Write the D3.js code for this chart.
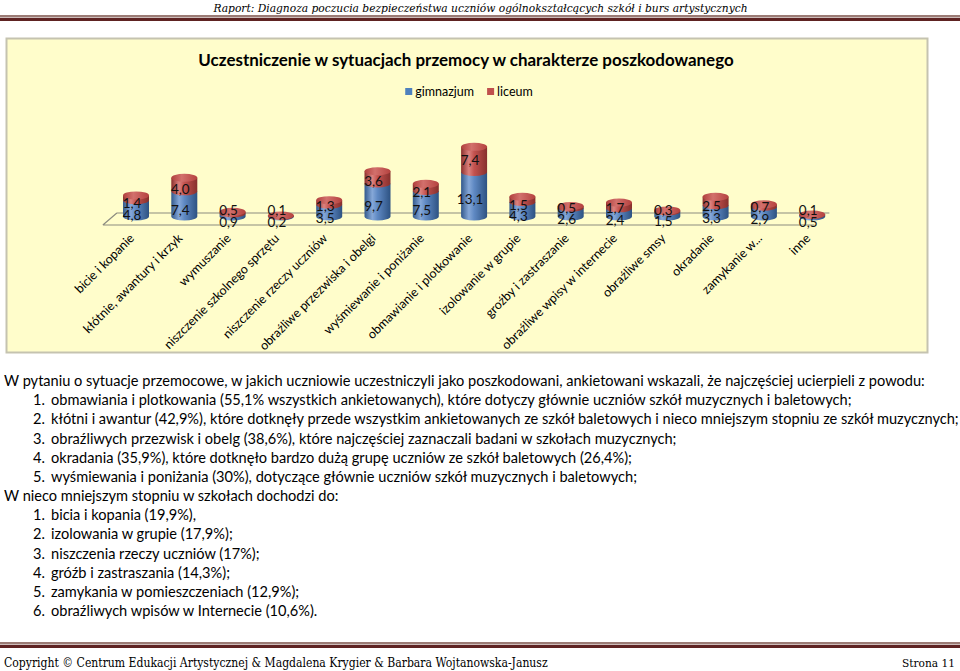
<!DOCTYPE html>
<html><head><meta charset="utf-8">
<script src="https://cdn.jsdelivr.net/npm/d3@7"></script>
<style>body{margin:0;background:#fff} svg{display:block}</style>
</head><body>
<script>
const categories = ["bicie i kopanie","kłótnie, awantury i krzyk","wymuszanie","niszczenie szkolnego sprzętu","niszczenie rzeczy uczniów","obraźliwe przezwiska i obelgi","wyśmiewanie i poniżanie","obmawianie i plotkowanie","izolowanie w grupie","groźby i zastraszanie","obraźliwe wpisy w internecie","obraźliwe smsy","okradanie","zamykanie w...","inne"];
const gimnazjum = [4.8,7.4,0.9,0.2,3.5,9.7,7.5,13.1,4.3,2.6,2.4,1.5,3.3,2.9,0.5];
const liceum    = [1.4,4.0,0.5,0.1,1.3,3.6,2.1,7.4,1.5,0.5,1.7,0.3,2.5,0.7,0.1];
const seriesNames = ["gimnazjum","liceum"];
const chartTitle = "Uczestniczenie w sytuacjach przemocy w charakterze poszkodowanego";
const headerText = "Raport: Diagnoza poczucia bezpieczeństwa uczniów ogólnokształcących szkół i burs artystycznych";
const footerText = "Copyright © Centrum Edukacji Artystycznej & Magdalena Krygier & Barbara Wojtanowska-Janusz";
const pageText = "Strona 11";
const introLine = "W pytaniu o sytuacje przemocowe, w jakich uczniowie uczestniczyli jako poszkodowani, ankietowani wskazali, że najczęściej ucierpieli z powodu:";
const list1 = ["obmawiania i plotkowania (55,1% wszystkich ankietowanych), które dotyczy  głównie uczniów szkół muzycznych i baletowych;",
"kłótni i awantur (42,9%), które dotknęły przede wszystkim ankietowanych ze szkół baletowych i nieco mniejszym stopniu ze szkół muzycznych;",
"obraźliwych przezwisk i obelg (38,6%), które najczęściej zaznaczali badani w szkołach muzycznych;",
"okradania (35,9%), które dotknęło bardzo dużą grupę uczniów ze szkół baletowych (26,4%);",
"wyśmiewania i poniżania (30%), dotyczące głównie uczniów szkół muzycznych i baletowych;"];
const midLine = "W nieco mniejszym stopniu w szkołach dochodzi do:";
const list2 = ["bicia i kopania (19,9%),","izolowania w grupie (17,9%);","niszczenia rzeczy uczniów (17%);","gróźb i zastraszania (14,3%);","zamykania w pomieszczeniach (12,9%);","obraźliwych wpisów w Internecie (10,6%)."];

const W=960,H=671;
const svg = d3.select("body").append("svg").attr("width",W).attr("height",H);
const defs = svg.append("defs");
function grad(id, stops){
  const g = defs.append("linearGradient").attr("id",id).attr("x1","0%").attr("x2","100%").attr("y1","0%").attr("y2","0%");
  stops.forEach(s=>g.append("stop").attr("offset",s[0]).attr("stop-color",s[1]));
}
grad("gBlue",[["0%","#33598c"],["30%","#86a8d8"],["50%","#5f89c3"],["100%","#2d5282"]]);
grad("gRed",[["0%","#8c302e"],["30%","#dc827e"],["50%","#c3524f"],["100%","#87302d"]]);
grad("gRedTop",[["0%","#b0403d"],["40%","#d2706c"],["100%","#b5423f"]]);

function fit(sel, width){
  const n = sel.node(); const w = n.getComputedTextLength();
  const fs = parseFloat(sel.attr("font-size"));
  sel.attr("font-size", fs*width/w);
  return fs*width/w;
}

// header
const hdr = svg.append("text").attr("x",480.5).attr("y",12).attr("text-anchor","middle")
  .attr("font-family","'DejaVu Serif Condensed','DejaVu Serif',serif").attr("font-style","italic")
  .attr("font-size",13).attr("fill","#000").text(headerText);
fit(hdr,535);
svg.append("rect").attr("x",0).attr("y",15).attr("width",960).attr("height",2.5).attr("fill","#9b7b75");
svg.append("rect").attr("x",0).attr("y",18).attr("width",960).attr("height",3).attr("fill","#5e2322");

// chart panel
svg.append("rect").attr("x",6.5).attr("y",38.5).attr("width",921).attr("height",314)
  .attr("fill","#FFFDCB").attr("stroke","#c5c3b0").attr("stroke-width",2);

const t = svg.append("text").attr("x",466).attr("y",66).attr("text-anchor","middle")
  .attr("font-family","Lato, 'Open Sans', sans-serif").attr("font-weight","bold").attr("font-size",16)
  .attr("fill","#000").text(chartTitle);
fit(t,536);

// legend
const colors = ["#4F81BD","#C0504D"];
const lg = svg.append("g").attr("font-family","Lato, sans-serif").attr("font-size",12.5);
let lx = 0;
seriesNames.forEach((s,i)=>{
  const g = lg.append("g");
  g.append("rect").attr("x",0).attr("y",-4).attr("width",7).attr("height",7).attr("fill",colors[i]);
  const tx = g.append("text").attr("x",10).attr("y",4).text(s);
  const w = 10 + tx.node().getComputedTextLength();
  g.attr("transform",`translate(${lx},92)`);
  lx += w + 13;
});
lx -= 13;
lg.attr("transform",`translate(${469 - lx/2},0)`);

// scales
const x = d3.scalePoint().domain(categories).range([111.85,836.35]).padding(0.5);
const y = d3.scaleLinear().domain([0,21]).range([216.5,216.5-21*3.4]);
const yl = d3.scaleLinear().domain([0,21]).range([224.5,224.5-21*3.8]);
const rx = 13, ry = 4;

// floor
const r0 = x.range()[0], r1 = x.range()[1];
svg.append("path").attr("d",`M${r0-9},225 L${r1-22},225 M${r0+5},213 L${r1-7},213 M${r0-9},225 L${r0+5},213`)
  .attr("stroke","#8c8c80").attr("stroke-width",1.2).attr("fill","none");

const data = categories.map((c,i)=>({c, g:gimnazjum[i], l:liceum[i]}));
const bars = svg.append("g");
data.forEach(d=>{
  const cx = x(d.c);
  const b0 = y(0), b1 = y(d.g), b2 = y(d.g+d.l);
  const seg = (yb,yt,fill)=> bars.append("path")
    .attr("d",`M${cx-rx},${yt} L${cx-rx},${yb} A${rx},${ry} 0 0 0 ${cx+rx},${yb} L${cx+rx},${yt} Z`)
    .attr("fill",fill);
  seg(b0,b1,"url(#gBlue)");
  seg(b1,b2,"url(#gRed)");
  bars.append("ellipse").attr("cx",cx).attr("cy",b2).attr("rx",rx).attr("ry",ry).attr("fill","url(#gRedTop)");
});

// data labels
const fmt = v => v.toFixed(1).replace(".",",");
const lab = svg.append("g").attr("font-family","Lato, sans-serif").attr("font-size",13.5).attr("text-anchor","middle").attr("fill","#111");
data.forEach(d=>{
  const cx = x(d.c) - 4;
  const by = Math.min(yl(d.g/2), 222);
  const ryy = Math.min(yl(d.g + d.l/2), by - 11.5);
  lab.append("text").attr("x",cx).attr("y",by).attr("dy","0.35em").text(fmt(d.g));
  lab.append("text").attr("x",cx).attr("y",ryy).attr("dy","0.35em").text(fmt(d.l));
});

// axis labels
const ax = svg.append("g").attr("font-family","Lato, sans-serif").attr("font-size",12.5).attr("fill","#000");
categories.forEach(c=>{
  ax.append("text").attr("text-anchor","end")
    .attr("transform",`translate(${x(c)-1},${239}) rotate(-45)`).text(c);
});

// body text
const body = svg.append("g").attr("font-family","Lato, 'Open Sans', sans-serif").attr("fill","#000");
const lineH = 19.17, base0 = 386;
const first = body.append("text").attr("x",4).attr("y",base0).attr("font-size",15).text(introLine);
const fs = fit(first,921);
let li = 1;
list1.forEach((s,i)=>{
  body.append("text").attr("x",33).attr("y",base0+li*lineH).attr("font-size",fs).text((i+1)+".");
  body.append("text").attr("x",51).attr("y",base0+li*lineH).attr("font-size",fs).text(s);
  li++;
});
body.append("text").attr("x",4).attr("y",base0+li*lineH).attr("font-size",fs).text(midLine); li++;
list2.forEach((s,i)=>{
  body.append("text").attr("x",33).attr("y",base0+li*lineH).attr("font-size",fs).text((i+1)+".");
  body.append("text").attr("x",51).attr("y",base0+li*lineH).attr("font-size",fs).text(s);
  li++;
});

// footer
svg.append("rect").attr("x",0).attr("y",642).attr("width",960).attr("height",2.5).attr("fill","#9b7b75");
svg.append("rect").attr("x",0).attr("y",645).attr("width",960).attr("height",3).attr("fill","#5e2322");
const ft = svg.append("text").attr("x",4).attr("y",667).attr("font-family","'DejaVu Serif Condensed','DejaVu Serif',serif")
  .attr("font-size",13).attr("fill","#000").text(footerText);
fit(ft,544);
const pt = svg.append("text").attr("x",955).attr("y",667).attr("text-anchor","end").attr("font-family","'DejaVu Serif Condensed','DejaVu Serif',serif")
  .attr("font-size",13).attr("fill","#000").text(pageText);
fit(pt,53);
</script>
</body></html>
